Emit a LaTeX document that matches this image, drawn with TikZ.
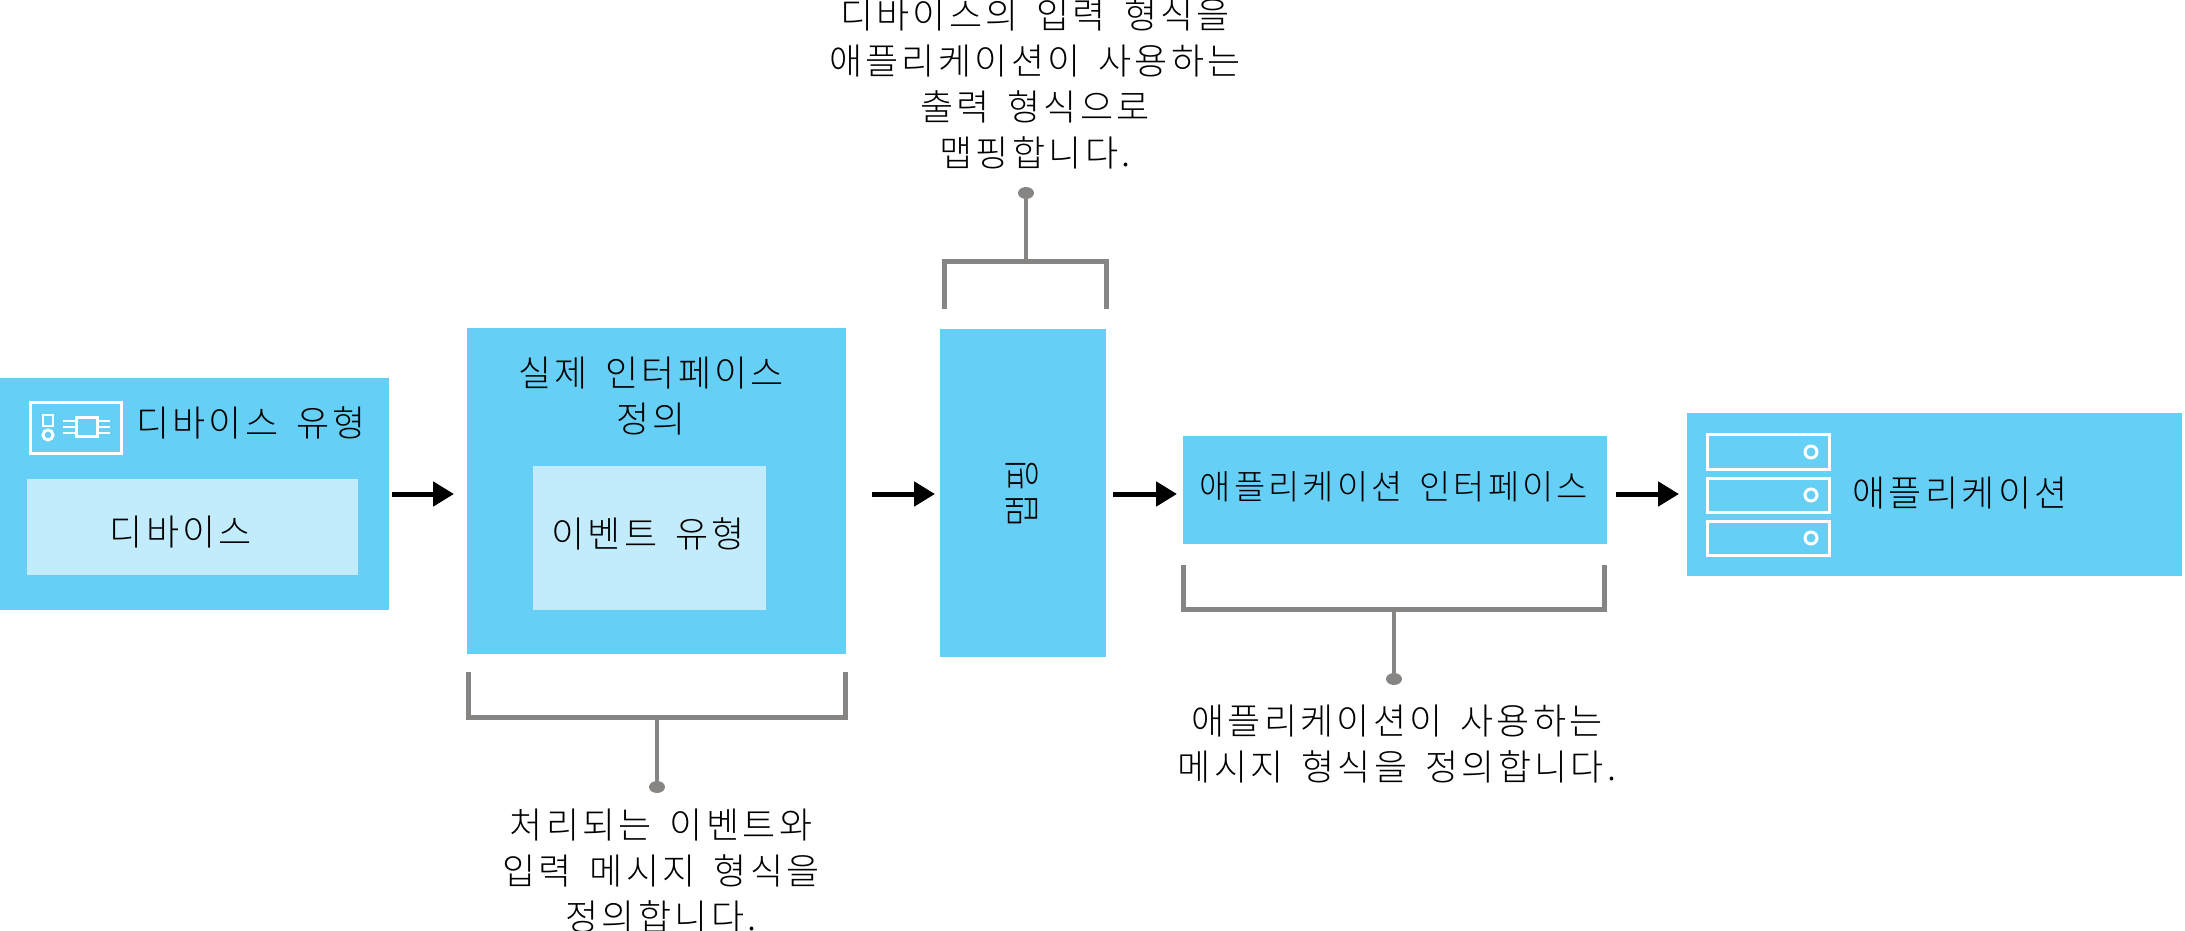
\documentclass[tikz,border=0pt]{standalone}
\usepackage{fontspec}
\usetikzlibrary{arrows.meta,shapes.geometric}
\newfontfamily\krfont[LetterSpace=9,WordSpace=1.6]{Noto Sans CJK KR Light}
\definecolor{boxblue}{HTML}{66CFF6}
\definecolor{innerblue}{HTML}{C2ECFB}
\definecolor{brgray}{HTML}{868584}
\tikzset{
  outerbox/.style={fill=boxblue,draw=none,inner sep=0pt,outer sep=0pt},
  innerbox/.style={fill=innerblue,draw=none,inner sep=0pt,outer sep=0pt},
  label/.style={inner sep=0pt,outer sep=0pt,align=center,text=black,font=\krfont\fontsize{18}{23}\selectfont},
  smalllabel/.style={label,font=\krfont\fontsize{17}{23}\selectfont},
  flow/.style={draw=black,line width=2.5pt,-{Triangle[length=10.5pt,width=12pt]}},
  bracket/.style={draw=brgray,line width=2.5pt,line cap=butt,miter limit=10},
  stem/.style={draw=brgray,line width=2pt},
  dot/.style={ellipse,fill=brgray,draw=none,inner sep=0pt,outer sep=0pt,minimum width=8pt,minimum height=6pt},
  icon/.style={draw=white,line width=1.5pt},
  iconthin/.style={draw=white,line width=1pt}
}
\begin{document}
\begin{tikzpicture}[x=0.5pt,y=-0.5pt]
\useasboundingbox (0,0) rectangle (2185,931);
% boxes
\node[outerbox,minimum width=194.5pt,minimum height=116pt] (b1) at (194.5,494) {};
\node[innerbox,minimum width=165.5pt,minimum height=48pt] (b1i) at (192.5,527) {};
\node[outerbox,minimum width=189.5pt,minimum height=163pt] (b2) at (656.5,491) {};
\node[innerbox,minimum width=116.5pt,minimum height=72pt] (b2i) at (649,537.5) {};
\node[outerbox,minimum width=83pt,minimum height=164pt] (b3) at (1023,493) {};
\node[outerbox,minimum width=212pt,minimum height=54pt] (b4) at (1395,490) {};
\node[outerbox,minimum width=247.5pt,minimum height=81.5pt] (b5) at (1934.5,494.5) {};
% texts
\node[label] (t1) at (251,423) {디바이스 유형};
\node[label] (t1i) at (181,532) {디바이스};
\node[label] (t2) at (651,396) {실제 인터페이스\\정의};
\node[label] (t2i) at (648,534) {이벤트 유형};
\node[label,rotate=90] (t3) at (1022,493) {맵핑};
\node[smalllabel] (t4) at (1394,487) {애플리케이션 인터페이스};
\node[label] (t5) at (1960,493) {애플리케이션};
\node[label] (ntop) at (1035,84) {디바이스의 입력 형식을\\애플리케이션이 사용하는\\출력 형식으로\\맵핑합니다.};
\node[label] (nbot) at (661,871) {처리되는 이벤트와\\입력 메시지 형식을\\정의합니다.};
\node[label] (nright) at (1397,744) {애플리케이션이 사용하는\\메시지 형식을 정의합니다.};
% arrows
\coordinate (rail) at (0,494);
\draw[flow,shorten <=1.5pt,shorten >=6.5pt] (b1.east |- rail) -- (b2.west |- rail);
\draw[flow,shorten <=13pt,shorten >=2.5pt] (b2.east |- rail) -- (b3.west |- rail);
\draw[flow,shorten <=3.5pt,shorten >=3pt] (b3.east |- rail) -- (b4.west |- rail);
\draw[flow,shorten <=4.5pt,shorten >=4pt] (b4.east |- rail) -- (b5.west |- rail);
% brackets
\coordinate (ba1) at (944.5,309); \coordinate (ba2) at (1106.5,309);
\coordinate (ba) at (1026,261.5);
\node[dot] (da) at (1026,193) {};
\draw[bracket] (ba1) -- (ba1 |- ba) -- (ba2 |- ba) -- (ba2);
\draw[stem] (ba) -- (da);
\coordinate (bb1) at (468.5,672); \coordinate (bb2) at (845.5,672);
\coordinate (bb) at (657,717.5);
\node[dot] (db) at (657,787) {};
\draw[bracket] (bb1) -- (bb1 |- bb) -- (bb2 |- bb) -- (bb2);
\draw[stem] (bb) -- (db);
\coordinate (bc1) at (1183.5,565); \coordinate (bc2) at (1604.5,565);
\coordinate (bc) at (1394,609);
\node[dot] (dc) at (1394,679) {};
\draw[bracket] (bc1) -- (bc1 |- bc) -- (bc2 |- bc) -- (bc2);
\draw[stem] (bc) -- (dc);
% device icon
\draw[icon] (30,402) rectangle (121,453);
\draw[iconthin] (42.5,414.5) rectangle (53,426);
\draw[icon] (48,435) circle (5);
\draw[icon] (76.5,417.5) rectangle (97,436);
\foreach \yy in {420.5,427,433} {
  \draw[iconthin] (63,\yy) -- (76,\yy);
  \draw[iconthin] (97,\yy) -- (110,\yy);
}
% server icon
\foreach \ya/\yb/\yc in {434.5/469.5/452,478/512/495,521.5/555.5/538} {
  \draw[icon] (1707,\ya) rectangle (1829,\yb);
  \draw[icon] (1811,\yc) circle (6);
}
\end{tikzpicture}
\end{document}
